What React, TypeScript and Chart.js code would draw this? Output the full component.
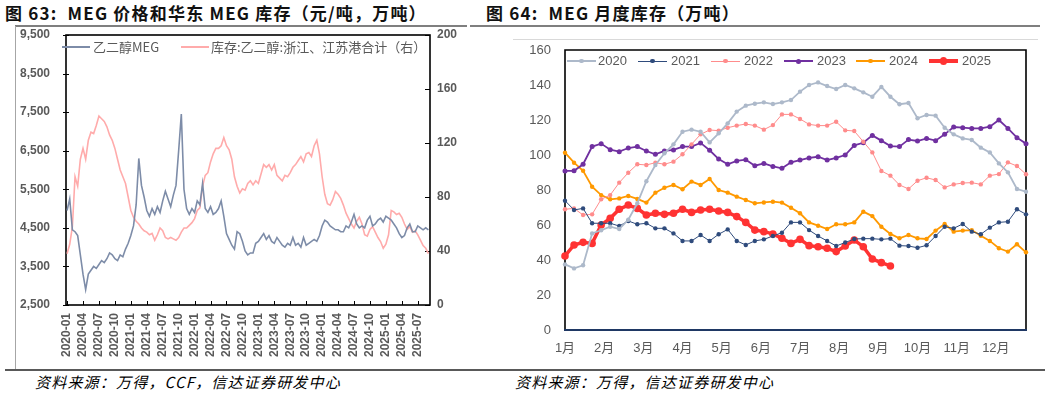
import React, { useEffect, useRef } from "react";
import { Chart, registerables } from "chart.js";

Chart.register(...registerables);

// ---------- Figure 63 data (semi-monthly samples from 2020-01 to 2025-09) ----------
const quarterLabels = [
  "2020-01", "2020-04", "2020-07", "2020-10",
  "2021-01", "2021-04", "2021-07", "2021-10",
  "2022-01", "2022-04", "2022-07", "2022-10",
  "2023-01", "2023-04", "2023-07", "2023-10",
  "2024-01", "2024-04", "2024-07", "2024-10",
  "2025-01", "2025-04", "2025-07",
];

// 乙二醇MEG price (元/吨), every half month
const megPrice = [
  4950, 5250, 4450, 4400, 4300, 3800, 3300, 2900, 3300, 3400,
  3500, 3450, 3550, 3650, 3600, 3700, 3850, 3800, 3700, 3650,
  3800, 3750, 3950, 4100, 4300, 4550, 5100, 6300, 5600, 5300,
  4950, 4800, 5000, 4850, 5050, 4900, 5200, 5450, 5250, 5050,
  5350, 5600, 6500, 7450, 5500, 5000, 4850, 5000, 4900, 5200,
  5100, 5650, 5000, 4900, 5050, 4850, 4900, 5000, 5200, 4800,
  4350, 4200, 4050, 3950, 4400, 4350, 4150, 3900, 3800, 3850,
  3850, 4100, 4150, 4250, 4350, 4200, 4300, 4150, 4100, 4250,
  4150, 4050, 4000, 4100, 4050, 4250, 4050, 4100, 4000, 4250,
  4050, 4100, 4150, 4200, 4150, 4300, 4550, 4700, 4650, 4550,
  4500, 4450, 4450, 4400, 4400, 4550, 4500, 4650, 4850, 4600,
  4500, 4550, 4500, 4700, 4800, 4550, 4600, 4700, 4750, 4650,
  4800, 4750, 4700, 4600, 4500, 4350, 4250, 4300, 4500, 4600,
  4400, 4400, 4550, 4500, 4450, 4500, 4450,
];

// 库存:乙二醇:浙江、江苏港合计 (万吨), every half month
const megStock = [
  38, 45, 58, 95, 88, 108, 116, 108, 122, 128,
  127, 133, 140, 138, 136, 132, 126, 122, 116, 108,
  100, 95, 90, 80, 70, 65, 62, 60, 57, 55,
  54, 52, 53, 48, 52, 57, 55, 50, 49, 50,
  49, 48, 50, 54, 57, 57, 59, 61, 64, 70,
  72, 88, 96, 98, 106, 112, 116, 116, 118, 124,
  118, 115, 108, 95, 88, 83, 86, 85, 90, 92,
  89, 92, 90, 97, 104, 102, 104, 100, 104, 96,
  94, 92, 96, 95, 98, 102, 104, 107, 110, 106,
  112, 113, 110, 118, 122, 112, 95, 82, 75, 74,
  78, 84, 82, 79, 74, 68, 64, 60, 57, 62,
  65, 60, 52, 51, 56, 58, 54, 50, 47, 42,
  45, 52, 70, 69, 67, 68, 65, 60, 56, 58,
  54, 55, 52, 48, 44, 42, 38,
];

// ---------- Figure 64 data (weekly, 52 weeks) ----------
const monthLabels = ["1月", "2月", "3月", "4月", "5月", "6月", "7月", "8月", "9月", "10月", "11月", "12月"];

const inv2020 = [
  37.5, 35.2, 37.0, 55.2, 57, 59, 57.7, 63, 72.4, 85, 94.3, 101, 106.1,
  113.3, 114.5, 113.3, 107.2, 112.4, 118.1, 124.8, 128.2, 129.3, 130.1, 129.1, 130.1, 131.4,
  136.2, 140, 141.5, 139.4, 137.7, 140, 138.1, 135.8, 133.3, 138.9, 133.3, 129, 129.7,
  121, 122.9, 122.5, 115.6, 111.8, 109.5, 108.6, 104.2, 101.5, 95.2, 90.1, 80.6, 79,
];
const inv2021 = [
  73.9, 68.6, 69.5, 61, 61, 61, 59.4, 62.3, 60.4, 61, 58.1, 58.1, 55.2,
  50.9, 50.9, 54.3, 50.9, 54.7, 57.5, 50.9, 48.6, 50.9, 51.8, 53.7, 55.6, 61.5,
  61.5, 57.1, 53.7, 50.9, 48, 50, 52, 52.2, 52.2, 51.8, 52.2, 48.2, 48,
  47, 48.4, 53.7, 59, 58.1, 60.6, 56.2, 54.7, 58.5, 61.5, 61.9, 69, 66.1,
];
const inv2022 = [
  69, 69.5, 65.7, 66.1, 74.7, 77.1, 84.2, 89.9, 94.7, 94.3, 95.6, 94.7, 96.2,
  100.4, 106.1, 111.8, 114.3, 113.9, 115.6, 116.8, 117.7, 116.8, 114.5, 117.1, 123.2, 123.2,
  120.6, 117.5, 116.8, 116.8, 119, 114.1, 113.7, 107.6, 101.5, 90.9, 88.2, 82.9, 80.6,
  85.3, 87, 85.7, 81.5, 83.2, 84, 84.2, 83.2, 88.2, 89.1, 95.8, 93.7, 89,
];
const inv2023 = [
  90.9, 91.0, 94.7, 104.8, 106.5, 103.0, 101.9, 104.0, 104.8, 102.3, 100.4, 102.3, 102.9,
  104.8, 104.8, 106.9, 102.7, 97.7, 94.7, 96.6, 97.3, 93.9, 95.2, 93.5, 92.4, 95.8,
  97.1, 98.3, 99.0, 97.1, 98.3, 100, 105.5, 107.0, 111.2, 108.2, 105.1, 104.8, 108.8,
  108, 109.5, 108.2, 111.8, 116, 115.6, 115.2, 115.2, 116.2, 120, 115.2, 109.9, 106.5,
];
const inv2024 = [
  101.3, 95.6, 91, 81.9, 77.1, 74.7, 75.2, 76.6, 74.9, 72.8, 78.5, 81.3, 82.9,
  80.4, 84.8, 82.9, 86.3, 80, 78.5, 76.2, 74.3, 72.4, 72.9, 73.3, 72.8, 69.9,
  66.7, 61.5, 59.6, 57.7, 60.4, 60.4, 61.5, 67.6, 65.1, 59, 54.9, 52.4, 54.3,
  52.4, 52, 56.8, 60.6, 56.2, 56.8, 57.1, 53.9, 50.9, 46.7, 44.8, 49, 44.4,
];
const inv2025 = [
  42.3, 48.6, 50.1, 49.5, 60, 63.8, 69, 71.4, 69.5, 65.7, 66.7, 66.1, 66.7,
  69, 67.2, 68.6, 69, 68, 67.2, 64.8, 61.5, 57.1, 56.2, 54.9, 52.4, 49.5,
  51.8, 48.2, 47.6, 46.7, 44.8, 48, 51.4, 47.6, 40.6, 38.5, 36.6,
];

const yearSeries = [
  { label: "2020", data: inv2020, color: "#ADB9CA", width: 1.8, radius: 2.2 },
  { label: "2021", data: inv2021, color: "#2F4B7C", width: 1, radius: 2.2 },
  { label: "2022", data: inv2022, color: "#FF8C8C", width: 1, radius: 2.2 },
  { label: "2023", data: inv2023, color: "#7030A0", width: 1.8, radius: 2.5 },
  { label: "2024", data: inv2024, color: "#FF9900", width: 1.8, radius: 2.2 },
  { label: "2025", data: inv2025, color: "#FF3333", width: 3.5, radius: 3.8 },
];

const WEEKS_PER_MONTH = 52 / 12;

const GRAY = "#595959";
const NUM_FONT = "'Liberation Sans', 'Noto Sans CJK SC', sans-serif";
const CJK_FONT = "'Noto Sans CJK SC', 'Liberation Sans', sans-serif";

// invisible tick marks give the label gap without adding top padding
const gapGrid = (len: number) => ({
  display: true,
  drawOnChartArea: false,
  drawTicks: true,
  tickLength: len,
  color: "rgba(0,0,0,0)",
});

function Fig63() {
  const ref = useRef<HTMLCanvasElement>(null);
  useEffect(() => {
    const frame = {
      id: "frame63",
      beforeDatasetsDraw(chart: any) {
        const { ctx, chartArea: a, scales } = chart;
        ctx.save();
        ctx.strokeStyle = "#000";
        ctx.lineWidth = 1.6;
        ctx.strokeRect(a.left, a.top, a.right - a.left, a.bottom - a.top);
        ctx.lineWidth = 1;
        ctx.beginPath();
        scales.y.ticks.forEach((t: any) => {
          const y = Math.round(scales.y.getPixelForValue(t.value)) + 0.5;
          ctx.moveTo(a.left - 3, y);
          ctx.lineTo(a.left + 3, y);
        });
        scales.y1.ticks.forEach((t: any) => {
          const y = Math.round(scales.y1.getPixelForValue(t.value)) + 0.5;
          ctx.moveTo(a.right - 5, y);
          ctx.lineTo(a.right, y);
        });
        scales.x.ticks.forEach((t: any) => {
          const x = Math.round(scales.x.getPixelForValue(t.value)) + 0.5;
          ctx.moveTo(x, a.bottom);
          ctx.lineTo(x, a.bottom - 4);
        });
        ctx.stroke();
        ctx.restore();
      },
    };
    const chart = new Chart(ref.current as HTMLCanvasElement, {
      type: "line",
      data: {
        datasets: [
          {
            label: "乙二醇MEG",
            data: megPrice.map((v, i) => ({ x: i / 2, y: v })),
            borderColor: "#7D8CA8",
            borderWidth: 1.6,
            pointRadius: 0,
            yAxisID: "y",
          },
          {
            label: "库存:乙二醇:浙江、江苏港合计（右）",
            data: megStock.map((v, i) => ({ x: i / 2, y: v })),
            borderColor: "#FFABAB",
            borderWidth: 1.6,
            pointRadius: 0,
            yAxisID: "y1",
          },
        ],
      },
      options: {
        animation: false,
        responsive: false,
        layout: { padding: { top: 8, left: 0, right: 0, bottom: 0 } },
        plugins: { legend: { display: false }, tooltip: { enabled: false } },
        scales: {
          x: {
            type: "linear",
            min: -0.2,
            max: 68.3,
            grid: { display: false, drawTicks: false },
            border: { display: false },
            afterBuildTicks: (s: any) => {
              s.ticks = quarterLabels.map((_, i) => ({ value: i * 3 }));
            },
            afterFit: (s: any) => {
              s.height = 65;
            },
            ticks: {
              autoSkip: false,
              maxRotation: 90,
              minRotation: 90,
              padding: 8,
              color: GRAY,
              font: { family: NUM_FONT, size: 12, weight: "bold" },
              callback: (v: any, i: number) => quarterLabels[i],
            },
          },
          y: {
            position: "left",
            min: 2500,
            max: 9500,
            grid: gapGrid(16),
            border: { display: false },
            afterFit: (s: any) => {
              s.width = 50;
            },
            ticks: {
              stepSize: 1000,
              padding: 0,
              color: GRAY,
              font: { family: NUM_FONT, size: 12, weight: "bold" },
              callback: (v: any) => Number(v).toLocaleString("en-US"),
            },
          },
          y1: {
            position: "right",
            min: 0,
            max: 200,
            grid: gapGrid(7),
            border: { display: false },
            afterFit: (s: any) => {
              s.width = 60;
            },
            ticks: {
              stepSize: 40,
              padding: 0,
              color: GRAY,
              font: { family: NUM_FONT, size: 12, weight: "bold" },
            },
          },
        },
      } as any,
      plugins: [frame],
    });
    return () => chart.destroy();
  }, []);
  return (
    <canvas
      ref={ref}
      width={474}
      height={343}
      style={{ position: "absolute", left: 16, top: 27, width: 474, height: 343 }}
    />
  );
}

function Fig64() {
  const ref = useRef<HTMLCanvasElement>(null);
  useEffect(() => {
    const frame = {
      id: "frame64",
      beforeDatasetsDraw(chart: any) {
        const { ctx, chartArea: a } = chart;
        ctx.save();
        ctx.lineWidth = 1.6;
        ctx.strokeStyle = "#000";
        ctx.beginPath();
        ctx.moveTo(a.left, a.bottom);
        ctx.lineTo(a.left, a.top);
        ctx.lineTo(a.right, a.top);
        ctx.lineTo(a.right, a.bottom);
        ctx.stroke();
        ctx.strokeStyle = "#1F3864";
        ctx.lineWidth = 2;
        ctx.beginPath();
        ctx.moveTo(a.left - 1, a.bottom);
        ctx.lineTo(a.right + 1, a.bottom);
        ctx.stroke();
        ctx.restore();
      },
    };
    const chart = new Chart(ref.current as HTMLCanvasElement, {
      type: "line",
      data: {
        datasets: yearSeries.map((s) => ({
          label: s.label,
          data: s.data.map((v, i) => ({ x: i, y: v })),
          borderColor: s.color,
          backgroundColor: s.color,
          borderWidth: s.width,
          pointRadius: s.radius,
          pointBorderWidth: 0,
          pointBackgroundColor: s.color,
          clip: 6,
        })),
      },
      options: {
        animation: false,
        responsive: false,
        layout: { padding: { top: 10, left: 0, right: 12, bottom: 0 } },
        plugins: { legend: { display: false }, tooltip: { enabled: false } },
        scales: {
          x: {
            type: "linear",
            min: 0,
            max: 51,
            grid: { display: false, drawTicks: false },
            border: { display: false },
            afterBuildTicks: (s: any) => {
              s.ticks = monthLabels.map((_, i) => ({ value: i * WEEKS_PER_MONTH }));
            },
            afterFit: (s: any) => {
              s.height = 40;
            },
            ticks: {
              autoSkip: false,
              maxRotation: 0,
              minRotation: 0,
              padding: 11,
              color: GRAY,
              font: { family: NUM_FONT, size: 13 },
              callback: (v: any, i: number) => monthLabels[i],
            },
          },
          y: {
            min: 0,
            max: 160,
            grid: gapGrid(14),
            border: { display: false },
            afterFit: (s: any) => {
              s.width = 52;
            },
            ticks: {
              stepSize: 20,
              padding: 0,
              color: GRAY,
              font: { family: NUM_FONT, size: 13 },
            },
          },
        },
      } as any,
      plugins: [frame],
    });
    return () => chart.destroy();
  }, []);
  return (
    <canvas
      ref={ref}
      width={525}
      height={330}
      style={{ position: "absolute", left: 513, top: 40, width: 525, height: 330 }}
    />
  );
}

const legend63 = [
  { label: "乙二醇MEG", color: "#7D8CA8", lineLeft: 62, textLeft: 93 },
  { label: "库存:乙二醇:浙江、江苏港合计（右）", color: "#FFABAB", lineLeft: 181, textLeft: 211 },
];
const legend64Pos = [
  { lineLeft: 567, textLeft: 598 },
  { lineLeft: 638, textLeft: 671 },
  { lineLeft: 711, textLeft: 744 },
  { lineLeft: 784, textLeft: 817 },
  { lineLeft: 856, textLeft: 889 },
  { lineLeft: 929, textLeft: 962 },
];

export default function App() {
  const abs = (o: any): React.CSSProperties => ({ position: "absolute", ...o });
  const titleStyle = {
    top: 1,
    fontFamily: CJK_FONT,
    fontWeight: 700,
    fontSize: 17,
    color: "#111",
    whiteSpace: "nowrap",
    letterSpacing: 1.2,
    lineHeight: "24px",
  };
  const sourceStyle = {
    top: 371,
    fontFamily: CJK_FONT,
    fontSize: 15,
    fontStyle: "italic",
    color: "#000",
    whiteSpace: "nowrap",
    lineHeight: "22px",
    letterSpacing: 1.2,
  };
  return (
    <div
      style={{
        position: "absolute",
        left: 0,
        top: 0,
        width: 1050,
        height: 394,
        background: "#fff",
        overflow: "hidden",
      }}
    >
      {/* titles */}
      <div style={abs({ left: 5, ...titleStyle })}>图 63:&nbsp; MEG 价格和华东 MEG 库存（元/吨，万吨）</div>
      <div style={abs({ left: 486, ...titleStyle })}>图 64:&nbsp; MEG 月度库存（万吨）</div>
      {/* rules */}
      <div style={abs({ left: 15, top: 25, width: 452, height: 1.5, background: "#7f7f7f" })} />
      <div style={abs({ left: 470, top: 25, width: 570, height: 1.5, background: "#7f7f7f" })} />
      <div style={abs({ left: 15, top: 26, width: 1, height: 343, background: "#a6a6a6" })} />
      <div style={abs({ left: 513, top: 39, width: 525, height: 1, background: "#d9d9d9" })} />
      <div style={abs({ left: 5, top: 369, width: 1040, height: 1.5, background: "#595959" })} />

      <Fig63 />
      <Fig64 />

      {/* legend fig 63 */}
      {legend63.map((l) => (
        <React.Fragment key={l.label}>
          <div style={abs({ left: l.lineLeft, top: 46, width: 28, height: 2, background: l.color })} />
          <div
            style={abs({
              left: l.textLeft,
              top: 38,
              fontFamily: CJK_FONT,
              fontSize: 13,
              color: GRAY,
              whiteSpace: "nowrap",
              lineHeight: "18px",
            })}
          >
            {l.label}
          </div>
        </React.Fragment>
      ))}

      {/* legend fig 64 */}
      {yearSeries.map((s, i) => {
        const p = legend64Pos[i];
        const d = s.radius * 2;
        return (
          <React.Fragment key={s.label}>
            <div
              style={abs({
                left: p.lineLeft,
                top: 61 - s.width / 2,
                width: 29,
                height: s.width,
                background: s.color,
              })}
            />
            <div
              style={abs({
                left: p.lineLeft + 14.5 - d / 2,
                top: 61 - d / 2,
                width: d,
                height: d,
                borderRadius: "50%",
                background: s.color,
              })}
            />
            <div
              style={abs({
                left: p.textLeft,
                top: 53,
                fontFamily: NUM_FONT,
                fontSize: 13,
                color: GRAY,
                lineHeight: "16px",
              })}
            >
              {s.label}
            </div>
          </React.Fragment>
        );
      })}

      {/* sources */}
      <div style={abs({ left: 35, ...sourceStyle })}>资料来源：万得，CCF，信达证券研发中心</div>
      <div style={abs({ left: 515, ...sourceStyle })}>资料来源：万得，信达证券研发中心</div>
    </div>
  );
}
